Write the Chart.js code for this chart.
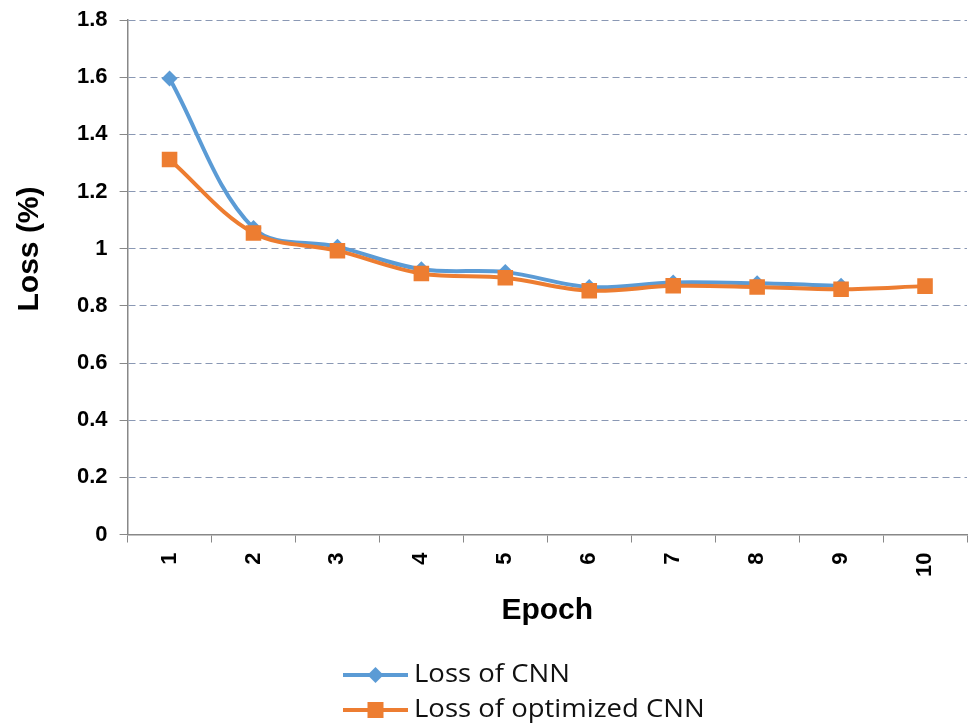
<!DOCTYPE html>
<html>
<head>
<meta charset="utf-8">
<script src="https://cdn.jsdelivr.net/npm/chart.js@4/dist/chart.umd.min.js"></script>
<style>
  html, body { margin: 0; padding: 0; background: #fff; }
  #wrap { width: 971px; height: 725px; position: relative; }
</style>
</head>
<body>
<div id="wrap"><canvas id="c"></canvas></div>
<script>
const epochs = ['1', '2', '3', '4', '5', '6', '7', '8', '9', '10'];
const lossCNN = [1.595, 1.072, 1.007, 0.928, 0.918, 0.866, 0.882, 0.879, 0.870, null];
const lossOptimizedCNN = [1.312, 1.055, 0.993, 0.913, 0.898, 0.853, 0.870, 0.866, 0.858, 0.869];
const seriesNames = ['Loss of CNN', 'Loss of optimized CNN'];
const yTitle = 'Loss (%)';

const BLUE = '#5B9BD5';
const ORANGE = '#ED7D31';
const AXIS_FONT = '"Liberation Sans", Arial, sans-serif';

// Vertical axis title, set a little above the middle of the plot
const yAxisTitle = {
  id: 'yAxisTitle',
  afterDraw(chart) {
    const ctx = chart.ctx;
    const a = chart.chartArea;
    ctx.save();
    ctx.translate(30, a.top + (a.bottom - a.top) * 0.445);
    ctx.rotate(-Math.PI / 2);
    ctx.fillStyle = '#000';
    ctx.font = 'bold 30px ' + AXIS_FONT;
    ctx.textAlign = 'center';
    ctx.textBaseline = 'middle';
    ctx.fillText(yTitle, 0, 0);
    ctx.restore();
  }
};

// Legend below the axis title: short line with the series marker, then the name
const bottomLegend = {
  id: 'bottomLegend',
  afterDraw(chart) {
    const ctx = chart.ctx;
    const rows = [675, 710];
    const x0 = 343, x1 = 408, tx = 414;
    const mx = (x0 + x1) / 2;
    ctx.save();
    chart.data.datasets.forEach((ds, i) => {
      const y = rows[i];
      ctx.strokeStyle = ds.borderColor;
      ctx.lineWidth = 4;
      ctx.beginPath();
      ctx.moveTo(x0, y);
      ctx.lineTo(x1, y);
      ctx.stroke();
      ctx.fillStyle = ds.pointBackgroundColor;
      ctx.beginPath();
      if (ds.pointStyle === 'rectRot') {
        const r = 8;
        ctx.moveTo(mx, y - r);
        ctx.lineTo(mx + r, y);
        ctx.lineTo(mx, y + r);
        ctx.lineTo(mx - r, y);
        ctx.closePath();
      } else {
        const h = 8;
        ctx.rect(mx - h, y - h, 2 * h, 2 * h);
      }
      ctx.fill();
      ctx.save();
      ctx.translate(tx, y);
      ctx.scale(1.1, 1);
      ctx.fillStyle = '#111';
      ctx.font = '25px "Open Sans", "Liberation Sans", sans-serif';
      ctx.textBaseline = 'middle';
      ctx.textAlign = 'left';
      ctx.fillText(ds.label, 0, 0);
      ctx.restore();
    });
    ctx.restore();
  }
};

new Chart(document.getElementById('c'), {
  type: 'line',
  data: {
    labels: epochs,
    datasets: [
      {
        label: seriesNames[0],
        data: lossCNN,
        borderColor: BLUE,
        backgroundColor: BLUE,
        pointBackgroundColor: BLUE,
        pointBorderColor: BLUE,
        pointStyle: 'rectRot',
        pointRadius: 8,
        pointBorderWidth: 0,
        borderWidth: 4,
        tension: 0.35,
        order: 1
      },
      {
        label: seriesNames[1],
        data: lossOptimizedCNN,
        borderColor: ORANGE,
        backgroundColor: ORANGE,
        pointBackgroundColor: ORANGE,
        pointBorderColor: ORANGE,
        pointStyle: 'rect',
        pointRadius: 11,
        pointBorderWidth: 0,
        borderWidth: 4,
        tension: 0.35,
        order: 0
      }
    ]
  },
  options: {
    responsive: true,
    maintainAspectRatio: false,
    animation: false,
    devicePixelRatio: 1,
    layout: { autoPadding: false, padding: { left: 65, right: 4, top: 20, bottom: 96 } },
    plugins: {
      legend: { display: false },
      tooltip: { enabled: false }
    },
    scales: {
      x: {
        type: 'category',
        offset: true,
        afterFit: (s) => { s.paddingLeft = 0; s.paddingRight = 0; },
        grid: {
          display: true,
          offset: true,
          drawOnChartArea: false,
          drawTicks: true,
          tickLength: 8,
          tickColor: '#888',
          tickWidth: 1
        },
        border: { display: true, color: '#888', width: 1.5 },
        ticks: {
          color: '#000',
          font: { family: AXIS_FONT, size: 22, weight: 'bold' },
          minRotation: 90,
          maxRotation: 90,
          padding: 10
        },
        title: {
          display: true,
          text: 'Epoch',
          color: '#000',
          font: { family: AXIS_FONT, size: 30, weight: 'bold' },
          padding: { top: 6, bottom: 0 }
        }
      },
      y: {
        min: 0,
        max: 1.8,
        afterFit: (s) => { s.paddingTop = 0; s.paddingBottom = 0; },
        ticks: {
          stepSize: 0.2,
          color: '#000',
          font: { family: AXIS_FONT, size: 22, weight: 'bold' },
          padding: 12,
          callback: (v) => Number(v.toFixed(1)).toString()
        },
        grid: {
          color: '#8a98b4',
          lineWidth: 1,
          drawTicks: true,
          tickLength: 8,
          tickColor: '#888',
          tickWidth: 1
        },
        border: { display: true, color: '#888', width: 1.5, dash: [7, 4] },
        title: { display: false }
      }
    }
  },
  plugins: [yAxisTitle, bottomLegend]
});
</script>
</body>
</html>
